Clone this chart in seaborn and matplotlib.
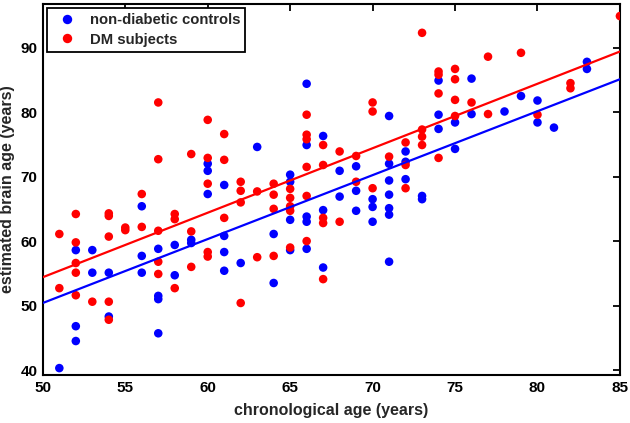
import matplotlib
matplotlib.use("Agg")
import matplotlib.pyplot as plt
import seaborn as sns
import pandas as pd

# ---- data ----
ctrl_age = [51, 52, 52, 52, 53, 53, 54, 54, 56, 56, 56, 57, 57, 57, 57, 58, 58, 59, 59,
            60, 60, 60, 61, 61, 61, 61, 62, 63, 64, 64, 65, 65, 65, 65,
            66, 66, 66, 66, 66, 67, 67, 67, 68, 68, 69, 69, 69, 70, 70, 70,
            71, 71, 71, 71, 71, 71, 71, 72, 72, 72, 73, 73, 74, 74, 74, 75, 75,
            76, 76, 78, 79, 80, 80, 81, 83, 83]
ctrl_brain = [40.3, 58.6, 46.8, 44.5, 58.6, 55.1, 55.1, 48.3, 65.4, 57.7, 55.1, 58.8, 51.5, 51.0, 45.7,
              59.4, 54.7, 60.2, 59.7, 72.0, 70.9, 67.3, 68.7, 60.8, 58.3, 55.4, 56.6, 74.6, 61.1, 53.5,
              70.3, 69.2, 63.3, 58.6, 84.4, 74.9, 63.8, 63.0, 58.8, 76.3, 64.8, 55.9, 70.9, 66.9,
              71.6, 67.8, 64.7, 66.5, 65.3, 63.0, 79.4, 72.0, 69.4, 67.2, 65.1, 64.1, 56.8,
              73.9, 72.3, 69.6, 67.0, 66.5, 84.9, 79.6, 77.4, 78.4, 74.3, 85.2, 79.7, 80.1,
              82.5, 81.8, 78.4, 77.6, 87.8, 86.7]

dm_age = [51, 51, 52, 52, 52, 52, 52, 53, 54, 54, 54, 54, 54, 55, 55, 56, 56,
          57, 57, 57, 57, 57, 58, 58, 58, 59, 59, 59, 60, 60, 60, 60, 60, 61, 61, 61,
          62, 62, 62, 62, 63, 63, 64, 64, 64, 64, 65, 65, 65, 65, 65,
          66, 66, 66, 66, 66, 66, 67, 67, 67, 67, 67, 68, 68, 69, 69, 70, 70, 70,
          71, 72, 72, 72, 73, 73, 73, 73, 74, 74, 74, 74, 75, 75, 75, 75, 76,
          77, 77, 79, 80, 82, 82, 85]
dm_brain = [61.1, 52.7, 64.2, 59.8, 56.6, 55.1, 51.6, 50.6, 64.3, 63.9, 60.7, 50.6, 47.8,
            62.1, 61.7, 67.3, 62.2, 81.5, 72.7, 61.6, 56.8, 54.9, 64.2, 63.4, 52.7,
            73.5, 61.5, 56.0, 78.8, 72.9, 68.9, 58.3, 57.6, 76.6, 72.6, 63.6,
            69.2, 67.8, 66.0, 50.4, 67.7, 57.5, 68.9, 67.2, 65.0, 57.7,
            68.1, 66.7, 65.4, 64.7, 59.0, 79.6, 76.5, 75.8, 71.5, 67.0, 60.0,
            74.9, 71.8, 63.6, 62.8, 54.1, 73.9, 63.0, 73.2, 69.2, 81.5, 80.1, 68.2,
            73.1, 75.3, 71.8, 68.2, 92.3, 77.3, 76.2, 74.9, 86.3, 85.8, 82.9, 72.9,
            86.7, 85.1, 81.9, 79.4, 81.5, 88.6, 79.7, 89.2, 79.6, 84.5, 83.7, 94.9]

fit_age = [50, 85]
ctrl_fit = [50.4, 85.1]
dm_fit = [54.4, 89.4]

group_labels = ["non-diabetic controls", "DM subjects"]
x_ticks = [50, 55, 60, 65, 70, 75, 80, 85]
y_ticks = [40, 50, 60, 70, 80, 90]

# ---- build table ----
df = pd.DataFrame({
    "age": ctrl_age + dm_age,
    "brain": ctrl_brain + dm_brain,
    "group": [group_labels[0]] * len(ctrl_age) + [group_labels[1]] * len(dm_age),
})

sns.set_theme(style="white")
plt.rcParams["font.family"] = ["Liberation Sans", "DejaVu Sans"]

fig = plt.figure(figsize=(6.3, 4.23), dpi=100)
ax = fig.add_axes([0.068, 0.113, 0.916, 0.878])

palette = {group_labels[0]: (0, 0, 1), group_labels[1]: (1, 0, 0)}
sns.scatterplot(data=df, x="age", y="brain", hue="group", palette=palette,
                hue_order=group_labels, s=38, linewidth=0, ax=ax, zorder=3)
sns.lineplot(x=fit_age, y=ctrl_fit, color=(0, 0, 1), lw=1.6, ax=ax, zorder=4)
sns.lineplot(x=fit_age, y=dm_fit, color=(1, 0, 0), lw=1.6, ax=ax, zorder=4)

ax.set_xlim(50, 85)
ax.set_ylim(39.2, 96.8)
ax.set_xticks(x_ticks)
ax.set_yticks(y_ticks)
ax.set_xlabel("chronological age (years)", fontsize=11.5, fontweight="bold", labelpad=6)
ax.set_ylabel("estimated brain age (years)", fontsize=11.5, fontweight="bold", labelpad=4)
ax.tick_params(direction="in", length=5, width=1.3, top=True, right=True,
               labelsize=11, colors="black", pad=4)
for lab in ax.get_xticklabels() + ax.get_yticklabels():
    lab.set_fontweight("bold")
for sp in ax.spines.values():
    sp.set_color("black")
    sp.set_linewidth(1.5)

handles, labels = ax.get_legend_handles_labels()
leg = ax.legend(handles[:2], labels[:2], loc="upper left", frameon=True, fancybox=False,
                edgecolor="black", framealpha=1, borderaxespad=0.25,
                prop={"weight": "bold", "size": 10.7}, handletextpad=0.55,
                borderpad=0.35, labelspacing=0.4, handlelength=2.0, markerscale=1.1)
leg.get_frame().set_linewidth(1.3)

fig.savefig("out.png", dpi=100)
